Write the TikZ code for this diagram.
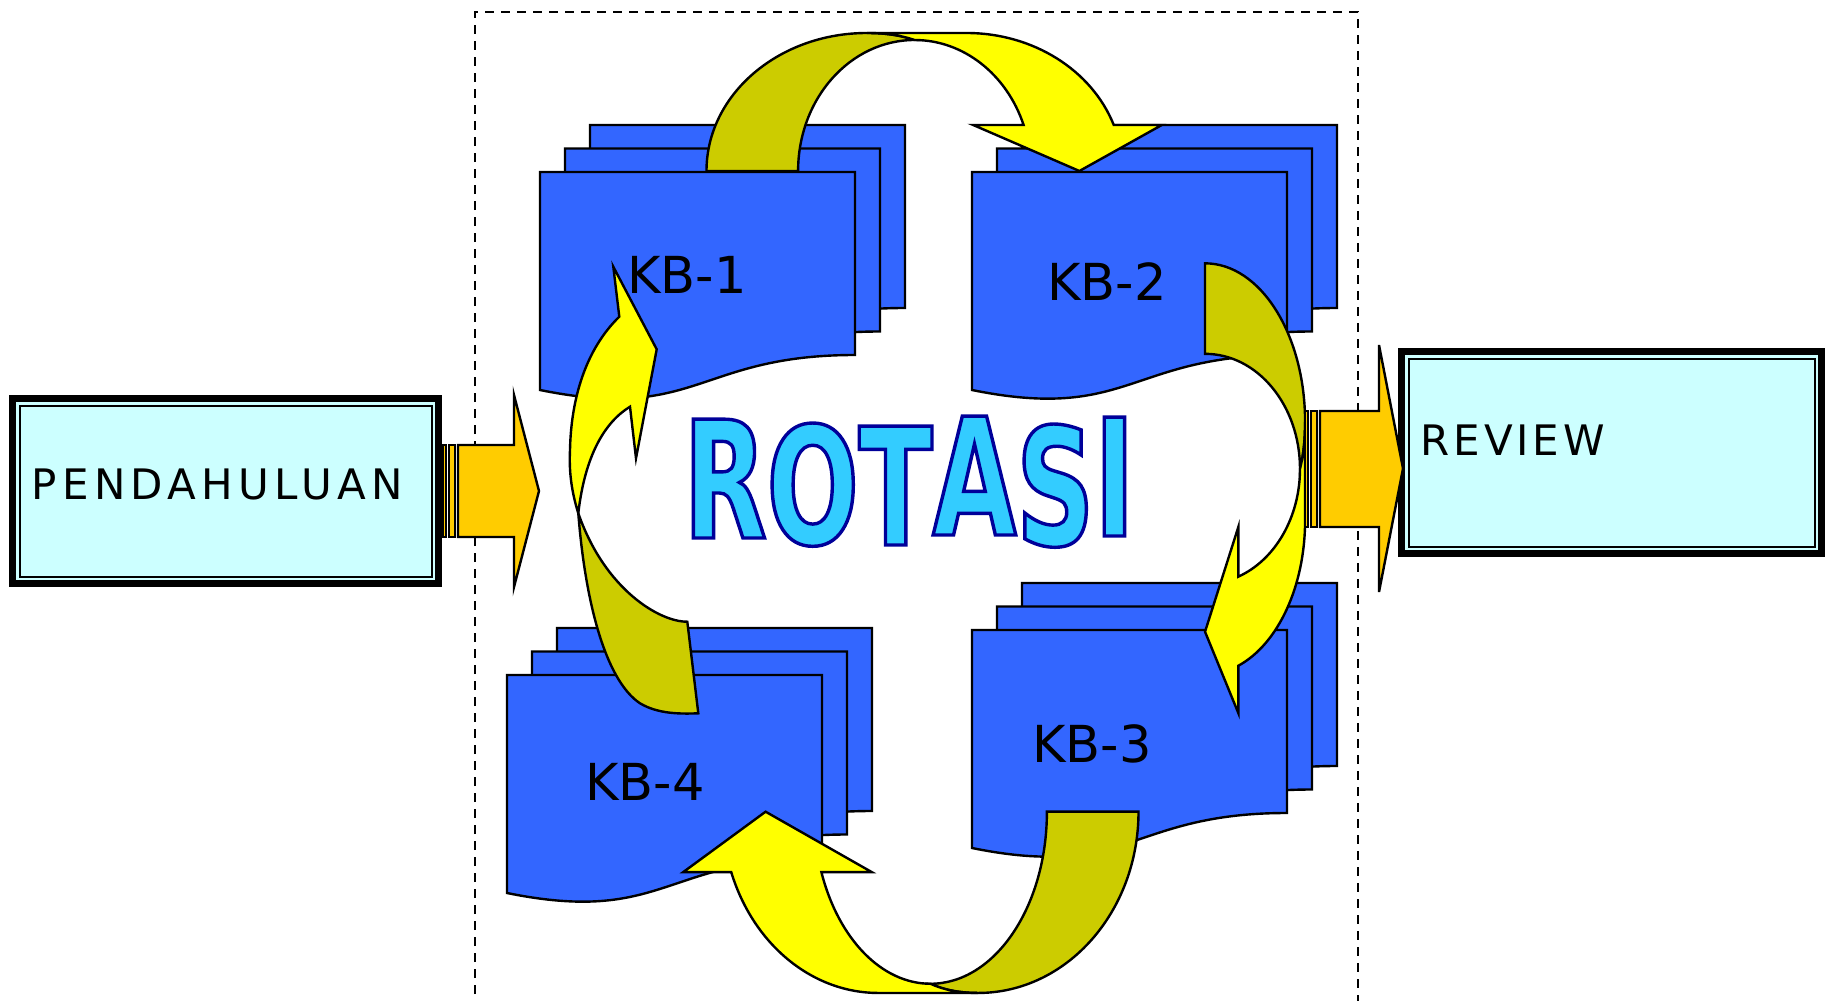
\documentclass[tikz,border=0pt]{standalone}
\usepackage{fontspec}
\setmainfont{DejaVu Sans}
\newfontfamily\lblfont{DejaVu Sans}
\newfontfamily\pendfont{DejaVu Sans}[LetterSpace=12.5]
\newfontfamily\revfont{DejaVu Sans}[LetterSpace=9]
\newfontfamily\rotfont{DejaVu Sans}[FakeStretch=0.664]
\definecolor{pageblue}{HTML}{3366FF}
\definecolor{boxcyan}{HTML}{CCFFFF}
\definecolor{arrorange}{HTML}{FFCC00}
\definecolor{ayellow}{HTML}{FFFF00}
\definecolor{aolive}{HTML}{CCCC00}
\definecolor{rotfill}{HTML}{33CCFF}
\tikzset{
  pagestyle/.style={fill=pageblue, draw=black, line width=1.2pt},
  olivestyle/.style={fill=aolive, draw=black, line width=1.2pt},
  yellowstyle/.style={fill=ayellow, draw=black, line width=1.2pt},
  orangestyle/.style={fill=arrorange, draw=black, line width=1.2pt},
  stripestyle/.style={fill=arrorange, draw=black, line width=0.8pt},
  dashline/.style={draw=black, line width=1.2pt, dash pattern=on 4.5pt off 3.5pt},
  kblabel/.style={inner sep=0pt, anchor=base west, font=\lblfont\fontsize{25.5pt}{30pt}\selectfont},
  boxlabel/.style={inner sep=0pt, anchor=base west},
}
\newcommand\docpage[2]{\filldraw[pagestyle] (#1,#2) -- ++(315,0) -- ++(0,183) .. controls +(-157.5,0) and +(157.5,32) .. ++(-315,35) -- cycle;}
\newcommand\kbstack[2]{\docpage{#1+50}{#2-47}\docpage{#1+25}{#2-23.5}\docpage{#1}{#2}}
\newcommand\curvedarrow[1]{%
  \begin{scope}[#1]
    \filldraw[olivestyle] (706.5,171) arc[start angle=180, end angle=270, x radius=160.5, y radius=138]
      .. controls (888,33) and (903,36) .. (914.6,40)
      arc[start angle=-90, end angle=-180, x radius=116.5, y radius=131] -- cycle;
    \filldraw[yellowstyle] (867,33) -- (966.7,33)
      arc[start angle=-90, end angle=-19.47, x radius=156, y radius=138]
      -- (1161.8,125) -- (1079.4,171) -- (973.2,125) -- (1023.6,125)
      arc[start angle=-20.56, end angle=-90, x radius=116.5, y radius=131]
      .. controls (903,36) and (888,33) .. (867,33) -- cycle;
  \end{scope}}
\begin{document}
\begin{tikzpicture}[x=0.5pt,y=-0.5pt]
\useasboundingbox (0,0) rectangle (1833,1001);
\fill[white] (0,0) rectangle (1833,1001);
% dashed frame
\draw[dashline] (475,1010) -- (475,12) -- (1358,12) -- (1358,1010);
% document stacks
\kbstack{540}{172}
\kbstack{972}{172}
\kbstack{972}{630}
\kbstack{507}{675}
\node[kblabel] (kb1) at (627,293) {KB-1};
\node[kblabel] (kb2) at (1047,300) {KB-2};
\node[kblabel] (kb3) at (1032,762) {KB-3};
\node[kblabel] (kb4) at (585,800) {KB-4};
% curved arrows
\curvedarrow{}
\curvedarrow{cm={0,-0.988,0.725,0,(1329,-434.7)}}
\curvedarrow{shift={(1845,1036.3)},xscale=-1,yscale=-1.3135}
% left curved arrow
\filldraw[olivestyle] (578.3,513.3) .. controls (585,600) and (605,680) .. (640,703.3)
  .. controls (658,714) and (680,714) .. (698.3,713.3) -- (687.3,621.7)
  .. controls (660,622) and (605,590) .. (578.3,513.3) -- cycle;
\filldraw[yellowstyle] (578.3,513.3) .. controls (571,490) and (569,470) .. (570,450)
  .. controls (571,400) and (585,350) .. (619.3,316.7) -- (613.3,266.7) -- (656.7,349.3)
  -- (636,458.3) -- (630,406.7) .. controls (605,422) and (585,455) .. (578.3,513.3) -- cycle;
% ROTASI
\node[inner sep=0pt, anchor=base west] (rotasi) at (683,540) {\rotfont\bfseries\fontsize{81.5pt}{90pt}\selectfont\color{rotfill}\special{pdf:literal 2 Tr 1.7 w 0 0 0.6 RG}\raisebox{1pt}{R}\raisebox{-2pt}{O}\raisebox{-2.5pt}{T}\raisebox{2.5pt}{A}\raisebox{-2.5pt}{S}\raisebox{2pt}{I}\special{pdf:literal 0 Tr}};
% PENDAHULUAN box
\fill[black] (9,395) rectangle (442,587);
\fill[boxcyan] (16,402) rectangle (435,580);
\draw[line width=1pt] (19.5,405.5) rectangle (431.5,576.5);
\node[boxlabel, font=\pendfont\fontsize{21pt}{25pt}\selectfont] (pend) at (31.5,499) {PENDAHULUAN};
% REVIEW box
\fill[black] (1398,348) rectangle (1825,557);
\fill[boxcyan] (1405,355) rectangle (1818,550);
\draw[line width=1pt] (1408.5,358.5) rectangle (1814.5,546.5);
\node[boxlabel, font=\revfont\fontsize{21pt}{25pt}\selectfont] (review) at (1420.5,455) {REVIEW};
% striped arrows
\filldraw[stripestyle] (443,445) rectangle (446,537);
\filldraw[stripestyle] (449,445) rectangle (455,537);
\filldraw[orangestyle] (458,445) -- (514,445) -- (514,395) -- (539,491) -- (514,587) -- (514,537) -- (458,537) -- cycle;
\filldraw[stripestyle] (1305,411) rectangle (1308,527);
\filldraw[stripestyle] (1311,411) rectangle (1317,527);
\filldraw[orangestyle] (1320,411) -- (1379,411) -- (1379,345) -- (1403,468.5) -- (1379,592) -- (1379,527) -- (1320,527) -- cycle;
\end{tikzpicture}
\end{document}
